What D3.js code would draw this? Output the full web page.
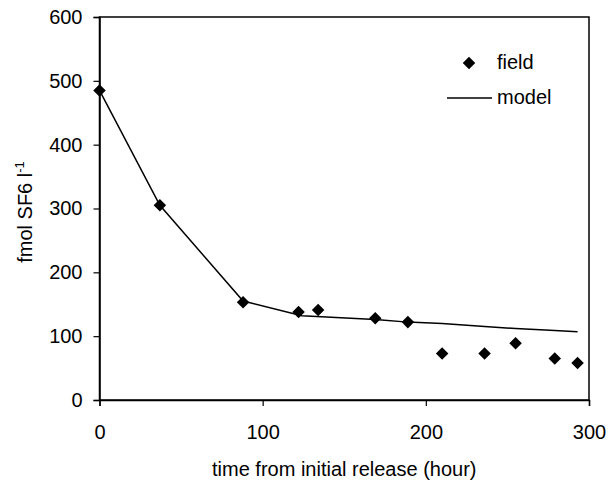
<!DOCTYPE html>
<html>
<head>
<meta charset="utf-8">
<script src="https://cdn.jsdelivr.net/npm/d3@7"></script>
<style>
  body { margin: 0; background: #fff; }
  text { font-family: "Liberation Sans", Arial, sans-serif; fill: #000; }
</style>
</head>
<body>
<div id="chart"></div>
<script>
// field measurements
const fieldHours = [0, 37, 88, 122, 134, 169, 189, 210, 236, 255, 279, 293];
const fieldSF6 = [485, 305, 153, 138, 141, 128, 122, 73, 73, 89, 65, 58];
// model curve
const modelHours = [0, 37, 88, 124, 169, 189, 210, 236, 255, 279, 293];
const modelSF6 = [485, 305, 155, 132, 126, 122, 120, 115, 112, 109, 107];
const xTicks = [0, 100, 200, 300];
const yTicks = [0, 100, 200, 300, 400, 500, 600];

const w = 611, h = 482;
const m = {left: 99.5, right: 22, top: 17, bottom: 82};
const fs = '20px';

const svg = d3.select('#chart').append('svg')
  .attr('width', w).attr('height', h);

const x = d3.scaleLinear().domain([0, 300]).range([m.left, w - m.right]);
const y = d3.scaleLinear().domain([0, 600]).range([h - m.bottom, m.top]);

// frame
svg.append('rect')
  .attr('x', x(0)).attr('y', y(600))
  .attr('width', x(300) - x(0)).attr('height', y(0) - y(600))
  .attr('fill', 'none').attr('stroke', '#000').attr('stroke-width', 1.5);

const xAxis = svg.append('g')
  .attr('transform', 'translate(0,' + y(0) + ')')
  .call(d3.axisBottom(x).tickValues(xTicks).tickSize(6).tickPadding(19));
const yAxis = svg.append('g')
  .attr('transform', 'translate(' + x(0) + ',0)')
  .call(d3.axisLeft(y).tickValues(yTicks).tickSize(6).tickPadding(11));
[xAxis, yAxis].forEach(g => {
  g.select('.domain').attr('stroke-width', 1.5);
  g.selectAll('.tick line').attr('stroke-width', 1.2);
  g.selectAll('text').style('font-size', fs).style('font-family', '"Liberation Sans", Arial, sans-serif');
});

// model line
const line = d3.line().x((d, i) => x(modelHours[i])).y(d => y(d));
svg.append('path')
  .datum(modelSF6)
  .attr('d', line)
  .attr('fill', 'none').attr('stroke', '#000').attr('stroke-width', 1.5);

// field points
const diamond = d3.symbol().type(d3.symbolDiamond2).size(100);
svg.append('g').selectAll('path')
  .data(fieldSF6)
  .enter().append('path')
  .attr('d', diamond)
  .attr('transform', (d, i) => 'translate(' + x(fieldHours[i]) + ',' + y(d) + ')')
  .attr('fill', '#000');

// legend
svg.append('path').attr('d', diamond)
  .attr('transform', 'translate(469,63)').attr('fill', '#000');
svg.append('text').attr('x', 497).attr('y', 69).style('font-size', fs).text('field');
svg.append('line').attr('x1', 447).attr('x2', 492).attr('y1', 98).attr('y2', 98)
  .attr('stroke', '#000').attr('stroke-width', 1.5);
svg.append('text').attr('x', 497).attr('y', 104).style('font-size', fs).text('model');

// axis titles
svg.append('text')
  .attr('x', (x(0) + x(300)) / 2).attr('y', 476)
  .attr('text-anchor', 'middle').style('font-size', fs)
  .text('time from initial release (hour)');

const yt = svg.append('text')
  .attr('transform', 'translate(32,212) rotate(-90)')
  .attr('text-anchor', 'middle').style('font-size', fs);
yt.append('tspan').text('fmol SF6 l');
yt.append('tspan').attr('dy', -8).style('font-size', '13px').text('-1');
</script>
</body>
</html>
